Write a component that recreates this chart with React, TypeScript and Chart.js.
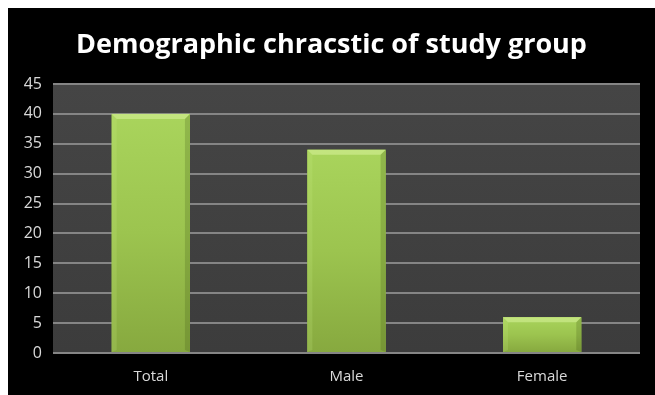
import React, { useEffect, useRef } from "react";
import { Chart, registerables } from "chart.js";

Chart.register(...registerables);

const categories = ["Total", "Male", "Female"];
const values = [40, 34, 6];
const yTicks = [0, 5, 10, 15, 20, 25, 30, 35, 40, 45];
const titleText = "Demographic chracstic of study group";

const plotBg = {
  id: "plotBg",
  beforeDraw(chart: any) {
    const { ctx, chartArea } = chart;
    if (!chartArea) return;
    ctx.save();
    ctx.fillStyle = "#000000";
    ctx.fillRect(0, 0, chart.width, chart.height);
    const g = ctx.createLinearGradient(0, chartArea.top, 0, chartArea.bottom);
    g.addColorStop(0, "#454545");
    g.addColorStop(1, "#3c3c3c");
    ctx.fillStyle = g;
    ctx.fillRect(chartArea.left, chartArea.top, chartArea.right - chartArea.left, chartArea.bottom - chartArea.top);
    ctx.restore();
  },
};

const bevel = {
  id: "bevel",
  afterDatasetsDraw(chart: any) {
    const { ctx } = chart;
    const meta = chart.getDatasetMeta(0);
    ctx.save();
    meta.data.forEach((bar: any) => {
      const { x, y, base, width } = bar.getProps(["x", "y", "base", "width"], true);
      const l = x - width / 2;
      const r = x + width / 2;
      const b = 5;
      const g = ctx.createLinearGradient(0, y, 0, base);
      g.addColorStop(0, "#a9d45c");
      g.addColorStop(0.5, "#9cc44f");
      g.addColorStop(1, "#87a93f");
      ctx.fillStyle = g;
      ctx.fillRect(l, y, width, base - y);
      ctx.fillStyle = "rgba(235,255,180,0.4)";
      ctx.beginPath();
      ctx.moveTo(l, y);
      ctx.lineTo(r, y);
      ctx.lineTo(r - b, y + b);
      ctx.lineTo(l + b, y + b);
      ctx.closePath();
      ctx.fill();
      ctx.fillStyle = "rgba(200,235,130,0.2)";
      ctx.beginPath();
      ctx.moveTo(l, y);
      ctx.lineTo(l + b, y + b);
      ctx.lineTo(l + b, base - 2);
      ctx.lineTo(l, base);
      ctx.closePath();
      ctx.fill();
      ctx.fillStyle = "rgba(60,80,20,0.22)";
      ctx.beginPath();
      ctx.moveTo(r, y);
      ctx.lineTo(r - b, y + b);
      ctx.lineTo(r - b, base - 2);
      ctx.lineTo(r, base);
      ctx.closePath();
      ctx.fill();
    });
    ctx.restore();
  },
};

export default function App() {
  const ref = useRef<HTMLCanvasElement | null>(null);
  useEffect(() => {
    if (!ref.current) return;
    const chart = new Chart(ref.current, {
      type: "bar",
      data: {
        labels: categories,
        datasets: [
          {
            data: values,
            backgroundColor: "#9cc44f",
            borderWidth: 0,
            barPercentage: 0.8,
            categoryPercentage: 0.5,
          },
        ],
      },
      plugins: [plotBg, bevel],
      options: {
        animation: false,
        responsive: false,
        maintainAspectRatio: false,
        layout: { padding: 0 },
        plugins: {
          legend: { display: false },
          tooltip: { enabled: false },
          title: {
            display: true,
            text: titleText,
            color: "#ffffff",
            font: { family: "Open Sans", size: 27, weight: "bold", lineHeight: 1.2 },
            padding: { top: 21, bottom: 22.6 },
          },
        },
        scales: {
          x: {
            grid: { display: false, drawTicks: false },
            border: { display: false },
            ticks: {
              color: "#d9d9d9",
              font: { family: "Open Sans", size: 15 },
              padding: 15,
            },
            afterFit: (s: any) => {
              s.height = 42;
            },
          },
          y: {
            min: 0,
            max: 45,
            afterBuildTicks: (s: any) => {
              s.ticks = yTicks.map((v) => ({ value: v }));
            },
            grid: { color: "#858585", lineWidth: 2, drawTicks: false },
            border: { display: false },
            ticks: {
              color: "#d9d9d9",
              font: { family: "Open Sans", size: 16 },
              padding: 11,
            },
            afterFit: (s: any) => {
              s.width = 45;
            },
          },
          y2: {
            position: "right",
            min: 0,
            max: 45,
            grid: { display: false, drawTicks: false },
            border: { display: false },
            ticks: { display: false },
            afterFit: (s: any) => {
              s.width = 15;
            },
          },
        },
      },
    });
    return () => chart.destroy();
  }, []);
  return (
    <div style={{ position: "fixed", left: 8, top: 8, width: 647, height: 387 }}>
      <canvas ref={ref} width={647} height={387} style={{ display: "block" }} />
    </div>
  );
}
